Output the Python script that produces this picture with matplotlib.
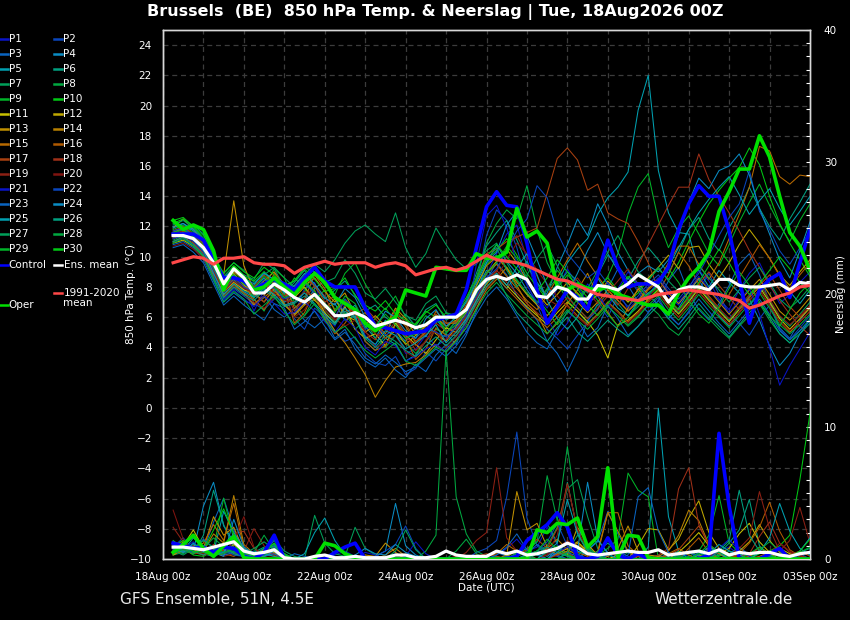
import numpy as np
import matplotlib
matplotlib.use('Agg')
import matplotlib.pyplot as plt
import matplotlib.dates as mdates
from matplotlib.ticker import MultipleLocator, FixedLocator
from matplotlib.lines import Line2D

# ---------------- data ----------------
run_start = np.datetime64('2026-08-18T06:00')
n_steps = 64
x_tick_dates = ['2026-08-18', '2026-08-20', '2026-08-22', '2026-08-24', '2026-08-26',
                '2026-08-28', '2026-08-30', '2026-09-01', '2026-09-03']

member_colors = ['#0a14c8', '#0a46bc', '#0a64c0', '#0a8cc4', '#00a0b0',
                 '#00a080', '#00a05a', '#00a840', '#00b428', '#00c814',
                 '#c8c000', '#c0a800', '#c09000', '#b88000', '#b86a00',
                 '#b05a00', '#a84010', '#a03018', '#8c2014', '#801410']

# 850 hPa temperature (deg C), 6-hourly from 18Aug 06z
t_control = [11.5, 11.5, 11.5, 11.1, 9.8, 8.6, 8.6, 8.4, 7.8, 8.2, 8.5, 8.2, 7.8, 8.6, 9.3, 8.4,
             8.0, 8.0, 8.0, 6.6, 5.4, 5.3, 5.1, 4.9, 5.0, 5.1, 5.8, 6.0, 6.2, 7.8, 10.6, 13.3,
             14.3, 13.4, 13.3, 10.9, 7.8, 5.6, 6.7, 7.8, 7.3, 6.5, 8.8, 11.1, 9.3, 8.0, 8.2, 8.2,
             8.3, 9.3, 11.8, 13.5, 14.7, 14.0, 14.0, 11.7, 8.5, 5.6, 7.8, 8.5, 8.9, 7.3, 9.6, 11.8]
t_oper = [12.4, 11.8, 12.1, 11.8, 10.4, 7.8, 9.3, 8.6, 7.8, 8.0, 8.6, 8.0, 7.5, 8.3, 8.9, 8.3,
          7.3, 6.9, 6.5, 5.6, 5.1, 5.6, 6.0, 7.8, 7.6, 7.4, 9.3, 9.2, 9.1, 9.1, 10.2, 9.9,
          9.9, 10.3, 13.2, 11.3, 11.7, 10.9, 8.0, 7.8, 8.2, 7.9, 7.8, 8.0, 7.5, 7.3, 7.0, 6.8,
          6.8, 6.2, 7.6, 8.6, 9.3, 10.3, 13.0, 14.3, 15.8, 15.8, 18.0, 16.6, 14.0, 11.6, 10.7, 9.1]
t_ens_mean = [11.4, 11.4, 11.2, 10.6, 9.6, 8.2, 9.2, 8.6, 7.6, 7.6, 8.2, 7.8, 7.3, 7.0, 7.5, 6.8,
              6.1, 6.1, 6.3, 6.0, 5.4, 5.6, 5.8, 5.6, 5.3, 5.5, 6.0, 6.0, 6.0, 6.5, 7.8, 8.5,
              8.7, 8.5, 8.8, 8.5, 7.4, 7.3, 8.0, 7.8, 7.2, 7.2, 8.1, 8.0, 7.8, 8.2, 8.8, 8.4,
              8.0, 7.0, 7.8, 8.0, 8.0, 7.8, 8.5, 8.5, 8.1, 8.0, 8.0, 8.1, 8.2, 7.8, 8.3, 8.2]
t_clim = [9.6, 9.8, 10.0, 9.9, 9.5, 9.9, 9.9, 10.0, 9.6, 9.5, 9.5, 9.4, 8.9, 9.3, 9.5, 9.7,
          9.5, 9.6, 9.6, 9.6, 9.3, 9.5, 9.6, 9.4, 8.8, 9.0, 9.2, 9.3, 9.1, 9.3, 9.7, 10.1,
          9.8, 9.7, 9.6, 9.4, 9.1, 8.8, 8.5, 8.4, 8.1, 7.8, 7.5, 7.4, 7.3, 7.2, 7.1, 7.3,
          7.5, 7.6, 7.7, 7.8, 7.7, 7.6, 7.5, 7.3, 7.1, 6.6, 6.8, 7.1, 7.4, 7.6, 8.0, 8.1]

t_p01 = [11.0, 11.2, 10.8, 10.2, 8.9, 7.6, 8.4, 7.9, 6.4, 7.8, 8.6, 6.9, 6.2, 7.9, 8.3, 6.1,
         5.4, 6.9, 6.3, 4.8, 4.1, 5.6, 5.0, 3.6, 3.9, 4.8, 4.1, 4.5, 5.6, 5.0, 7.2, 8.8,
         10.2, 11.5, 12.1, 9.8, 7.5, 6.6, 7.9, 9.2, 8.1, 6.9, 7.4, 8.3, 7.8, 6.5, 7.2, 8.0,
         8.6, 7.4, 6.8, 7.9, 9.1, 8.4, 7.2, 6.5, 7.8, 8.9, 9.6, 8.2, 6.9, 7.5, 8.3, 9.0]
t_p02 = [11.5, 11.8, 11.3, 10.5, 9.1, 7.2, 7.9, 7.4, 6.9, 6.5, 7.2, 7.6, 5.9, 5.2, 6.6, 6.0,
         5.1, 4.4, 4.7, 3.6, 3.0, 2.8, 3.4, 2.2, 2.6, 3.7, 3.1, 3.9, 4.5, 5.5, 8.1, 11.4,
         13.1, 12.4, 10.6, 8.2, 6.8, 5.2, 4.6, 3.9, 4.8, 5.7, 6.9, 6.0, 7.4, 8.6, 7.7, 6.6,
         7.3, 6.1, 5.5, 6.4, 7.8, 8.9, 7.5, 6.2, 5.6, 4.8, 5.9, 6.8, 5.2, 4.5, 5.3, 6.1]
t_p03 = [10.8, 11.0, 10.6, 9.8, 8.4, 7.0, 7.6, 7.1, 6.8, 7.4, 6.5, 6.0, 6.6, 5.8, 5.3, 5.9,
         4.6, 5.2, 3.9, 3.1, 2.7, 3.3, 2.5, 2.0, 2.9, 2.4, 3.5, 4.2, 3.6, 4.8, 6.4, 8.5,
         9.6, 8.8, 7.4, 6.6, 5.8, 4.4, 3.6, 2.4, 3.8, 5.8, 6.5, 7.9, 9.2, 8.1, 7.0, 6.3,
         7.1, 8.4, 9.3, 7.6, 6.5, 5.8, 6.9, 8.1, 9.5, 10.2, 8.8, 7.0, 5.3, 4.6, 5.8, 6.7]
t_p04 = [11.3, 11.6, 11.9, 11.2, 9.6, 8.1, 8.8, 8.3, 7.9, 8.6, 7.7, 8.2, 7.4, 6.8, 7.9, 8.4,
         7.3, 6.2, 6.8, 5.4, 4.6, 5.8, 5.1, 4.4, 5.3, 4.7, 5.9, 5.0, 5.7, 6.4, 7.5, 9.6,
         10.8, 9.7, 8.9, 7.8, 6.9, 7.6, 9.3, 10.8, 12.5, 11.4, 13.5, 12.1, 10.3, 9.1, 8.2, 7.5,
         6.8, 5.9, 6.6, 7.7, 8.5, 7.3, 6.1, 5.4, 6.3, 7.2, 5.8, 4.1, 2.8, 3.6, 4.9, 5.8]
t_p05 = [12.0, 12.2, 11.7, 11.0, 9.3, 7.8, 8.5, 7.8, 7.4, 8.1, 7.9, 7.0, 7.3, 8.4, 7.5, 6.6,
         6.9, 5.8, 6.1, 4.4, 3.8, 4.6, 4.2, 3.1, 3.5, 4.4, 4.0, 4.9, 4.2, 5.9, 7.8, 9.1,
         8.6, 7.9, 8.8, 9.7, 8.3, 7.4, 8.2, 9.6, 10.5, 11.2, 12.8, 13.9, 14.6, 15.6, 19.7, 22.0,
         15.7, 12.9, 11.6, 11.5, 9.1, 8.0, 9.1, 8.3, 7.6, 6.8, 7.5, 8.4, 9.0, 7.7, 6.9, 7.8]
t_p06 = [11.6, 11.9, 12.1, 11.5, 10.0, 8.6, 9.2, 8.5, 8.1, 9.0, 8.4, 7.6, 8.3, 9.1, 8.0, 7.2,
         7.8, 8.4, 7.5, 6.4, 6.8, 6.0, 5.5, 6.2, 5.4, 6.5, 6.9, 5.8, 6.2, 7.1, 8.9, 10.7,
         11.6, 12.4, 11.1, 9.5, 8.2, 7.3, 8.1, 9.0, 8.4, 7.6, 8.8, 10.1, 9.4, 8.5, 9.7, 10.6,
         9.8, 8.9, 10.3, 11.8, 12.6, 11.2, 10.4, 11.9, 13.1, 14.6, 13.2, 12.0, 11.1, 12.5, 13.6, 14.8]
t_p07 = [12.3, 12.0, 11.4, 10.9, 9.8, 8.9, 9.6, 9.1, 8.3, 8.8, 9.3, 8.6, 8.0, 8.8, 9.5, 9.0,
         9.8, 10.9, 11.7, 12.1, 11.5, 11.0, 12.9, 10.6, 9.3, 10.2, 11.9, 10.8, 9.8, 9.2, 9.5, 10.4,
         10.9, 9.6, 8.4, 7.5, 6.9, 7.8, 8.6, 7.4, 6.6, 5.9, 6.8, 7.6, 6.9, 6.1, 6.7, 7.5,
         8.1, 7.0, 6.3, 7.1, 8.0, 7.2, 6.5, 5.8, 6.6, 7.4, 8.2, 7.1, 6.0, 5.4, 6.2, 7.0]
t_p08 = [11.1, 11.4, 11.0, 10.4, 9.0, 7.9, 8.7, 8.2, 7.2, 6.4, 7.8, 8.1, 6.8, 6.1, 7.3, 6.5,
         5.7, 6.3, 5.2, 5.8, 4.6, 4.0, 4.8, 4.3, 3.6, 4.4, 5.2, 4.9, 5.8, 6.4, 8.6, 10.9,
         12.2, 13.1, 12.5, 14.7, 11.8, 9.6, 8.3, 7.1, 6.4, 5.6, 6.2, 7.0, 6.4, 5.5, 6.1, 6.8,
         6.2, 5.3, 4.8, 5.7, 6.6, 5.9, 5.2, 4.6, 5.4, 6.1, 6.9, 5.8, 4.9, 4.3, 5.1, 5.9]
t_p09 = [11.8, 12.1, 11.6, 10.8, 9.4, 8.3, 9.0, 8.4, 7.3, 8.0, 9.2, 8.6, 7.0, 7.7, 9.0, 8.1,
         7.5, 8.9, 9.6, 8.2, 7.1, 6.5, 7.4, 6.0, 5.2, 6.1, 5.6, 6.3, 5.7, 6.6, 8.0, 9.5,
         10.1, 9.3, 8.5, 7.6, 7.0, 7.9, 9.1, 8.3, 7.5, 6.9, 7.8, 8.7, 10.2, 12.8, 14.6, 15.5,
         12.4, 10.6, 11.9, 12.7, 11.5, 10.2, 9.4, 10.8, 12.3, 13.6, 14.8, 13.4, 12.1, 11.0, 12.4, 13.5]
t_p10 = [12.4, 12.6, 12.0, 11.2, 9.7, 8.5, 9.3, 8.7, 8.4, 9.0, 8.1, 7.5, 8.6, 7.9, 7.1, 7.8,
         6.5, 7.2, 6.4, 5.3, 5.9, 6.6, 5.7, 4.9, 5.6, 6.4, 6.0, 5.2, 6.1, 7.0, 8.4, 9.8,
         10.4, 11.2, 10.1, 8.9, 8.0, 7.2, 7.9, 8.8, 8.1, 7.3, 7.9, 8.6, 7.8, 7.0, 7.6, 8.5,
         9.2, 8.5, 9.6, 11.0, 12.3, 13.5, 14.4, 15.2, 15.9, 17.2, 16.1, 14.0, 12.2, 10.9, 9.8, 8.7]
t_p11 = [10.9, 11.1, 10.7, 10.0, 8.8, 7.7, 8.3, 7.8, 7.6, 7.0, 7.9, 6.8, 6.2, 6.9, 7.5, 6.3,
         5.6, 6.7, 5.2, 4.6, 4.9, 4.1, 5.6, 4.8, 4.2, 3.6, 4.5, 5.3, 5.0, 5.9, 7.1, 8.2,
         8.9, 8.1, 7.4, 6.7, 6.1, 5.5, 6.3, 7.0, 6.4, 5.7, 4.8, 3.3, 5.5, 5.8, 6.4, 7.2,
         7.8, 6.9, 6.2, 7.0, 7.9, 7.1, 6.4, 5.7, 6.5, 7.3, 8.0, 7.0, 5.9, 5.2, 5.9, 6.6]
t_p12 = [11.4, 11.7, 11.2, 10.6, 9.2, 8.0, 8.9, 8.1, 7.7, 8.3, 7.4, 7.9, 7.3, 8.0, 7.1, 6.6,
         7.2, 6.1, 5.8, 5.0, 5.5, 4.6, 5.1, 4.2, 4.8, 5.5, 4.9, 4.4, 5.4, 6.3, 7.6, 8.9,
         9.7, 10.5, 9.6, 8.4, 7.6, 6.8, 7.5, 8.3, 7.6, 6.9, 7.5, 8.4, 7.7, 7.0, 7.8, 8.6,
         9.3, 10.1, 9.2, 10.6, 10.7, 9.5, 8.6, 9.6, 10.8, 11.8, 10.9, 9.9, 8.8, 8.1, 9.0, 9.8]
t_p13 = [11.9, 12.5, 11.8, 11.0, 9.9, 8.8, 13.7, 9.4, 7.8, 8.4, 9.0, 8.1, 7.5, 8.1, 8.6, 7.7,
         7.0, 7.6, 6.2, 5.5, 6.1, 5.4, 6.6, 5.9, 4.8, 5.4, 6.0, 5.4, 5.8, 6.8, 8.1, 9.4,
         10.0, 9.2, 8.3, 7.5, 6.8, 6.1, 6.9, 7.7, 7.0, 6.3, 7.0, 7.8, 7.1, 6.4, 7.1, 7.9,
         8.5, 7.6, 6.9, 7.7, 8.6, 7.8, 7.0, 6.2, 7.0, 7.8, 8.5, 7.5, 6.4, 5.8, 6.5, 7.3]
t_p14 = [11.2, 11.5, 11.0, 10.3, 9.0, 7.5, 8.2, 7.6, 6.8, 7.3, 7.9, 6.9, 6.1, 6.8, 7.2, 6.2,
         5.1, 4.3, 3.3, 2.2, 0.7, 1.8, 2.7, 2.9, 3.0, 3.5, 4.2, 3.7, 4.5, 5.3, 6.6, 7.8,
         8.5, 9.3, 8.1, 6.9, 6.2, 4.9, 5.6, 6.9, 7.8, 8.9, 7.4, 6.3, 5.4, 6.6, 7.9, 7.0,
         7.6, 6.7, 6.0, 6.8, 7.7, 6.9, 6.2, 5.5, 6.3, 7.1, 7.8, 6.8, 5.7, 5.0, 5.7, 6.4]
t_p15 = [11.6, 11.9, 11.4, 10.7, 9.5, 8.4, 9.0, 8.5, 6.9, 7.4, 8.9, 8.2, 6.6, 7.2, 8.8, 7.9,
         6.4, 7.0, 5.9, 6.3, 5.6, 4.9, 6.2, 5.4, 4.3, 5.0, 6.4, 5.6, 5.6, 6.5, 7.7, 8.9,
         9.5, 8.7, 7.9, 7.1, 6.5, 7.4, 8.6, 9.8, 10.9, 9.7, 8.7, 7.8, 7.1, 6.4, 7.0, 7.8,
         8.4, 9.6, 10.7, 10.7, 9.5, 8.5, 9.6, 11.2, 12.8, 14.6, 17.3, 17.0, 15.3, 14.8, 15.4, 15.3]
t_p16 = [11.0, 11.3, 10.9, 10.2, 8.7, 7.4, 8.1, 7.6, 7.2, 6.5, 7.6, 7.9, 5.6, 6.3, 7.8, 5.9,
         4.9, 5.6, 6.6, 4.4, 3.8, 4.1, 5.5, 4.6, 3.2, 3.9, 5.3, 4.8, 4.8, 5.7, 6.9, 8.0,
         8.7, 7.9, 7.2, 6.5, 5.9, 5.3, 6.0, 6.8, 6.1, 5.5, 6.2, 7.0, 6.4, 5.7, 6.3, 7.1,
         7.7, 8.8, 10.3, 9.4, 8.2, 7.4, 6.6, 7.5, 8.6, 9.7, 10.8, 9.9, 8.7, 7.9, 8.8, 9.6]
t_p17 = [11.7, 12.0, 11.5, 10.9, 9.6, 8.5, 9.1, 8.6, 8.0, 8.8, 8.2, 7.4, 7.8, 8.6, 8.1, 7.0,
         7.4, 6.9, 6.2, 6.6, 5.9, 5.2, 6.5, 5.6, 4.4, 5.1, 6.2, 5.6, 5.7, 6.8, 8.5, 10.2,
         10.5, 11.0, 11.3, 11.6, 11.9, 14.2, 16.5, 17.2, 16.4, 14.4, 14.8, 12.9, 12.5, 12.2, 11.0, 9.6,
         7.8, 7.2, 6.5, 7.3, 8.2, 9.0, 8.1, 7.3, 6.5, 7.3, 8.1, 8.8, 7.8, 6.7, 6.0, 6.7]
t_p18 = [11.3, 11.6, 11.1, 10.5, 9.1, 7.8, 8.6, 8.0, 7.5, 7.0, 8.0, 7.9, 6.4, 7.2, 8.1, 7.4,
         6.0, 7.1, 6.4, 5.0, 4.5, 5.5, 5.9, 4.9, 3.8, 4.4, 5.6, 5.1, 5.2, 6.1, 7.3, 8.5,
         9.1, 8.3, 7.6, 6.9, 6.3, 5.7, 6.5, 7.3, 6.6, 5.9, 6.6, 7.4, 6.8, 7.9, 9.4, 10.8,
         12.1, 13.4, 14.6, 14.6, 16.8, 15.1, 14.0, 12.9, 11.7, 10.4, 9.3, 8.1, 7.1, 6.2, 5.4, 4.8]
t_p19 = [11.5, 11.7, 11.2, 10.4, 9.0, 7.7, 8.4, 7.9, 7.6, 8.3, 7.6, 7.1, 7.0, 7.7, 7.4, 6.5,
         5.8, 6.4, 6.3, 5.6, 4.9, 4.6, 5.8, 4.7, 4.1, 4.9, 5.0, 4.5, 5.1, 6.0, 7.2, 8.4,
         9.0, 10.6, 11.4, 10.1, 8.7, 7.2, 6.8, 7.9, 8.6, 7.7, 6.9, 7.6, 8.4, 9.2, 8.1, 7.4,
         8.0, 7.1, 6.4, 7.2, 8.1, 7.3, 6.6, 5.9, 6.7, 7.5, 8.2, 7.2, 6.1, 5.5, 6.1, 6.8]
t_p20 = [10.7, 10.9, 10.5, 9.9, 8.6, 7.3, 8.0, 7.5, 7.0, 6.6, 7.3, 7.4, 6.0, 6.5, 7.6, 6.8,
         5.9, 5.4, 5.8, 5.1, 4.0, 4.3, 4.8, 3.7, 3.3, 4.5, 5.1, 4.0, 4.7, 5.6, 6.8, 7.9,
         8.6, 9.8, 10.9, 10.2, 9.1, 8.2, 7.4, 6.7, 6.0, 5.4, 6.1, 6.9, 6.3, 5.6, 6.2, 7.0,
         7.6, 6.7, 6.0, 6.8, 7.7, 6.9, 6.2, 5.5, 6.3, 7.1, 7.8, 6.8, 5.7, 5.1, 5.7, 6.4]
t_p21 = [11.2, 11.4, 11.0, 10.3, 8.9, 7.1, 7.8, 7.2, 6.7, 7.4, 6.9, 6.2, 6.3, 7.0, 6.4, 5.7,
         5.0, 5.9, 5.3, 4.0, 3.5, 4.4, 4.1, 3.1, 3.4, 3.9, 4.2, 3.7, 4.3, 5.8, 9.5, 12.7,
         13.4, 11.9, 9.6, 8.1, 7.0, 5.9, 4.8, 5.6, 6.9, 8.2, 7.4, 6.6, 7.9, 9.0, 8.1, 7.3,
         8.6, 7.7, 7.0, 7.8, 8.7, 7.9, 7.1, 6.3, 7.1, 7.9, 6.2, 4.0, 1.5, 2.8, 3.9, 5.0]
t_p22 = [11.7, 11.9, 11.4, 10.6, 9.2, 8.0, 8.7, 8.0, 7.7, 8.5, 7.9, 7.2, 7.5, 8.2, 7.6, 6.8,
         6.0, 7.2, 6.5, 5.2, 5.5, 4.8, 5.2, 4.9, 4.6, 5.3, 5.0, 4.7, 5.3, 6.2, 7.4, 8.6,
         9.2, 10.4, 11.7, 12.5, 14.7, 13.9, 11.6, 10.2, 9.4, 8.6, 9.1, 8.2, 7.4, 6.7, 7.4, 8.2,
         8.8, 7.9, 7.2, 8.0, 8.9, 10.1, 11.4, 12.6, 13.5, 15.7, 13.0, 11.8, 10.4, 9.5, 10.6, 11.7]
t_p23 = [10.6, 10.8, 10.3, 9.6, 8.2, 6.8, 7.4, 6.8, 6.3, 5.8, 6.9, 6.6, 5.2, 5.7, 6.4, 5.4,
         4.5, 5.0, 4.2, 3.3, 2.9, 3.5, 3.0, 2.4, 2.7, 3.3, 3.9, 3.4, 4.1, 5.0, 6.2, 7.3,
         8.0, 7.2, 6.1, 5.0, 4.3, 3.9, 5.1, 6.4, 5.8, 4.7, 5.3, 6.8, 5.9, 4.8, 5.4, 6.3,
         7.1, 6.2, 5.5, 6.3, 7.2, 6.4, 5.6, 4.9, 5.7, 6.5, 7.2, 6.2, 5.1, 4.5, 5.1, 5.8]
t_p24 = [11.9, 12.2, 11.8, 11.1, 9.8, 8.6, 9.2, 8.6, 8.2, 8.9, 8.5, 7.6, 8.1, 8.9, 8.2, 7.3,
         6.8, 7.9, 7.3, 6.0, 5.3, 6.4, 6.0, 5.1, 4.6, 5.9, 6.5, 5.4, 6.0, 7.0, 8.3, 9.6,
         10.3, 12.1, 13.0, 11.4, 9.8, 8.1, 7.0, 7.6, 8.9, 10.4, 11.6, 10.2, 9.1, 8.3, 8.9, 9.4,
         9.0, 9.8, 11.4, 13.6, 15.2, 14.5, 15.7, 16.0, 16.8, 15.4, 13.2, 11.5, 9.8, 8.6, 10.4, 12.3]
t_p25 = [11.4, 11.6, 11.1, 10.4, 8.9, 7.5, 8.2, 7.7, 7.3, 7.9, 7.5, 6.8, 7.0, 7.6, 6.9, 6.2,
         5.6, 6.6, 6.0, 4.7, 4.2, 5.1, 4.8, 3.9, 4.3, 4.8, 5.5, 4.3, 5.0, 5.9, 7.1, 8.3,
         8.9, 8.1, 9.3, 10.2, 8.8, 7.1, 5.9, 5.2, 6.0, 7.3, 8.6, 7.5, 6.6, 6.1, 7.0, 7.6,
         8.1, 9.3, 10.6, 11.8, 12.9, 13.8, 14.6, 15.3, 14.1, 12.8, 13.7, 14.5, 13.2, 12.1, 13.0, 14.0]
t_p26 = [11.0, 11.3, 10.8, 10.1, 8.6, 7.3, 8.0, 7.5, 7.1, 7.8, 7.3, 6.7, 6.9, 7.4, 6.8, 6.0,
         5.5, 6.4, 5.9, 4.6, 4.0, 4.8, 4.4, 3.8, 3.4, 4.1, 4.7, 4.1, 4.8, 5.7, 6.9, 8.0,
         8.7, 7.4, 6.3, 5.6, 4.9, 4.4, 5.3, 6.0, 5.0, 4.4, 5.1, 5.8, 5.2, 4.7, 5.4, 6.1,
         6.8, 5.9, 5.2, 6.0, 6.9, 6.1, 5.4, 4.7, 5.5, 6.3, 7.0, 6.0, 4.9, 4.3, 4.9, 5.6]
t_p27 = [12.1, 12.4, 11.9, 11.2, 9.9, 8.7, 9.4, 8.8, 8.5, 9.6, 9.2, 8.0, 8.4, 9.3, 9.0, 8.3,
         8.6, 9.8, 8.9, 7.6, 7.2, 7.9, 7.0, 6.1, 5.8, 6.9, 7.4, 6.3, 6.1, 7.1, 8.4, 9.8,
         10.6, 9.1, 8.0, 8.8, 9.9, 10.8, 9.4, 8.1, 7.0, 7.9, 9.1, 10.3, 11.4, 10.2, 9.0, 8.4,
         9.3, 8.4, 7.7, 8.5, 9.4, 8.6, 7.8, 7.0, 7.8, 8.6, 9.3, 8.3, 7.2, 6.6, 7.2, 8.0]
t_p28 = [10.9, 11.2, 10.7, 10.0, 8.5, 7.0, 7.7, 7.2, 6.2, 6.8, 7.4, 6.4, 5.5, 6.1, 6.9, 5.8,
         5.0, 5.4, 4.6, 3.8, 3.3, 3.8, 4.3, 3.1, 2.8, 3.4, 4.0, 3.7, 4.4, 5.3, 6.5, 7.6,
         8.3, 7.5, 6.8, 6.1, 5.5, 4.9, 5.7, 6.5, 5.8, 5.2, 5.9, 6.7, 6.1, 5.4, 6.0, 6.8,
         7.4, 6.5, 5.8, 6.6, 7.5, 6.7, 6.0, 5.3, 6.1, 6.9, 7.6, 6.6, 5.5, 4.9, 5.5, 6.2]
t_p29 = [11.6, 11.8, 11.3, 10.6, 9.3, 8.1, 8.8, 8.2, 7.9, 8.7, 8.0, 7.3, 7.6, 8.4, 7.7, 6.9,
         6.3, 7.4, 6.9, 5.6, 5.4, 6.2, 5.5, 4.6, 4.9, 5.6, 6.1, 5.0, 5.5, 6.4, 7.6, 8.9,
         9.6, 10.7, 9.9, 8.6, 7.3, 6.4, 5.5, 6.3, 7.2, 8.0, 7.1, 6.2, 5.4, 6.0, 6.9, 7.5,
         8.1, 9.2, 8.3, 7.1, 6.2, 5.6, 6.7, 7.9, 9.0, 8.1, 7.0, 6.1, 5.4, 6.5, 7.6, 8.3]
t_p30 = [12.2, 12.5, 12.0, 11.4, 10.1, 8.9, 9.6, 9.0, 8.6, 9.3, 8.8, 8.1, 8.4, 9.2, 8.5, 7.7,
         7.9, 8.6, 7.4, 6.8, 6.4, 7.1, 6.2, 5.8, 5.5, 6.3, 6.8, 6.0, 6.3, 7.3, 8.6, 10.0,
         10.8, 10.0, 9.2, 8.4, 7.7, 8.6, 9.8, 9.0, 7.9, 6.8, 6.1, 6.9, 7.8, 8.7, 8.1, 7.2,
         7.9, 7.1, 6.5, 7.4, 8.3, 9.4, 10.5, 9.6, 8.4, 7.5, 8.2, 9.1, 10.0, 9.2, 8.3, 7.6]

# precipitation (mm per 6 h)
r_control = [1.2, 1.0, 0.8, 0.9, 0.5, 0.9, 0.8, 0.2, 0, 0.5, 1.8, 0, 0, 0, 0, 0,
             0.5, 0.9, 1.2, 0, 0, 0, 0, 0, 0, 0, 0, 0, 0, 0, 0, 0,
             0, 0, 0.2, 1.4, 2.0, 2.6, 3.5, 2.4, 0.1, 0, 0.2, 1.6, 0.3, 0, 0.4, 0,
             0, 0, 0, 0, 0, 0.3, 9.5, 4.0, 0, 0, 0, 0.4, 0.8, 0, 0, 0]
r_oper = [0.5, 1.1, 1.8, 0.8, 0.2, 1.0, 1.7, 0.1, 0, 0, 0, 0, 0, 0, 0, 1.2,
          1.0, 0.4, 0.1, 0, 0, 0, 0, 0, 0, 0, 0, 0, 0, 0, 0, 0,
          0, 0, 0, 0, 2.2, 2.0, 2.7, 2.6, 3.1, 0.9, 1.7, 6.9, 0.1, 1.8, 1.7, 0.1,
          0, 0, 0, 0, 0, 0, 0, 0, 0, 0, 0, 0, 0, 0, 0, 0]
r_ens_mean = [0.9, 0.9, 0.8, 0.7, 0.9, 1.1, 1.3, 0.6, 0.4, 0.5, 0.7, 0.1, 0, 0, 0.2, 0.3,
              0.1, 0.1, 0.2, 0.1, 0.1, 0.1, 0.3, 0.3, 0.1, 0.1, 0.2, 0.6, 0.3, 0.2, 0.2, 0.2,
              0.6, 0.4, 0.6, 0.3, 0.4, 0.6, 0.8, 1.2, 0.9, 0.4, 0.3, 0.4, 0.5, 0.6, 0.5, 0.5,
              0.7, 0.3, 0.4, 0.5, 0.6, 0.4, 0.7, 0.3, 0.5, 0.4, 0.5, 0.5, 0.3, 0.2, 0.4, 0.5]

r_p01 = [1.2, 0.8, 0.5, 1.0, 0.6, 0.3, 1.4, 0.5, 0, 0.4, 0.9, 0, 0, 0, 0, 0,
         0.3, 0.6, 0.2, 0, 0, 0, 0.4, 0.2, 0, 0, 0, 0, 0, 0, 0, 0,
         0.3, 0.8, 1.5, 0.6, 0.9, 2.4, 1.1, 0.3, 0, 0, 0.5, 0, 0, 0.7, 0.3, 0,
         0, 0, 0.4, 0.2, 0, 0, 0.6, 0.9, 0.3, 0, 0, 0, 0.5, 0.2, 0, 0]
r_p02 = [0.9, 1.6, 0.7, 0.4, 0.2, 0.5, 0.8, 0.3, 0.4, 0.2, 0.6, 0, 0, 0, 0, 0,
         0, 0, 0, 0, 0.2, 0, 0, 0, 0, 0, 0, 0, 0, 0, 0.5, 0.8,
         1.4, 4.7, 9.6, 3.1, 1.0, 0.4, 0.2, 0, 0.6, 0.3, 0, 0, 0, 0, 0, 0.2,
         0, 0.5, 0.3, 0, 0, 0.8, 0.4, 0, 0, 0.2, 0, 0.3, 0, 0, 0.4, 0]
r_p03 = [0.4, 0.7, 1.1, 0.6, 2.8, 4.6, 2.2, 0.8, 0.3, 0.5, 1.4, 0.2, 0, 0, 0, 0,
         0, 0, 0, 0, 0, 0, 0, 0, 0, 0, 0, 0, 0, 0, 0, 0.3,
         0.5, 0.2, 0, 0.4, 1.1, 0.6, 0.3, 0, 0, 0.7, 1.3, 3.6, 1.9, 0.5, 0, 0,
         0.3, 0, 0, 0.6, 0.2, 0, 0, 0.4, 0.9, 0.3, 0, 0.2, 0, 0, 0, 0]
r_p04 = [0.8, 1.2, 0.6, 4.0, 5.8, 2.5, 1.3, 0.4, 0.2, 0.6, 1.0, 0.3, 0, 0, 0, 0,
         0, 0, 0, 0, 0.2, 0.6, 4.2, 1.0, 0.3, 0, 0, 0, 0, 0, 0, 0.2,
         0.6, 0.3, 0, 0, 0.4, 0, 0.8, 0.3, 0, 0.6, 1.4, 0.5, 0.2, 0, 0, 0,
         0, 0.3, 0, 0, 0.5, 0.2, 0, 0, 0, 0, 0, 0, 0, 0, 0, 0]
r_p05 = [1.0, 0.6, 1.6, 0.9, 0.5, 3.6, 2.0, 0.7, 0.4, 0.2, 0.5, 0, 0, 0, 0, 0,
         0, 0, 0, 0, 0, 0, 0, 0, 0, 0, 0, 0, 0, 0, 0, 0,
         0, 0, 0, 0.3, 0.6, 0.2, 0.8, 1.2, 0.6, 0.3, 0, 0.4, 0.3, 0, 0, 0.9,
         11.4, 3.2, 0.6, 0, 0, 0, 0.3, 0.2, 0.5, 0, 0, 0, 0, 0, 0, 0]
r_p06 = [0.6, 0.9, 0.4, 1.8, 5.2, 2.6, 0.9, 0.3, 0.5, 0.9, 1.1, 0.4, 0, 0, 0, 0,
         0, 0.2, 0, 0, 0, 0, 0, 0, 0, 0, 0, 0, 0, 0, 0, 0,
         0, 0, 0.4, 0.8, 1.3, 2.7, 1.2, 5.8, 2.1, 0.4, 0, 0, 0, 0, 0, 0,
         0, 0.2, 0.6, 0.3, 0, 0, 0.4, 1.2, 2.2, 4.5, 1.0, 0.3, 0, 0.2, 0.5, 0.8]
r_p07 = [0.3, 0.5, 0.8, 0.4, 0.2, 0.6, 1.1, 0.5, 0.3, 0.7, 1.5, 0.6, 0.2, 0, 3.3, 1.2,
         0.4, 0.2, 2.4, 0.8, 0.3, 0, 0, 0, 0, 0, 0, 0, 0, 0, 0, 0,
         0.2, 0, 0.5, 0.3, 0.6, 1.0, 2.4, 5.3, 6.0, 3.2, 0.8, 0.3, 0, 0.5, 0.2, 0,
         0, 0, 0, 0, 0.3, 0, 0.2, 0.6, 0.4, 0, 0, 0, 0.2, 0, 0, 0]
r_p08 = [0.7, 0.4, 0.9, 0.5, 0.3, 0.4, 0.6, 0.2, 0, 0.3, 0.8, 0.2, 0, 0, 0, 0,
         0, 0, 0, 0, 0, 0, 0, 0, 0, 0.6, 1.8, 15.8, 4.7, 1.9, 0.6, 0.2,
         0, 0, 0.3, 0.6, 1.3, 6.3, 2.9, 8.5, 3.2, 0.9, 0.3, 0, 0, 0, 0, 0,
         0, 0, 0.2, 0, 0, 0.3, 0, 0, 0, 0, 0, 0, 0.4, 0.2, 0, 0]
r_p09 = [0.5, 1.1, 0.7, 0.3, 0.8, 4.6, 1.5, 0.6, 0.2, 0.5, 1.2, 0.4, 0, 0, 0, 0,
         0, 0, 0, 0, 0, 0, 0, 0, 0, 0, 0, 0, 0, 0, 0, 0,
         0, 0, 0, 0, 0, 0.5, 1.0, 0.4, 0, 0, 0.3, 0.8, 1.5, 6.5, 5.2, 4.7,
         0, 0, 0, 0.2, 0.6, 1.8, 4.8, 1.2, 0.5, 0.3, 0, 0, 0, 0, 0, 0]
r_p10 = [0.4, 0.8, 0.3, 0.2, 0.6, 0.9, 0.4, 0.2, 0.3, 0.8, 0.5, 0, 0, 0, 0, 0,
         0, 0, 0, 0, 0, 0, 0, 0, 0, 0, 0, 0, 0, 0, 0, 0,
         0, 0, 0.2, 0.5, 0.3, 0, 0, 0.4, 0.8, 0.3, 0, 0, 0, 0, 0, 0,
         0, 0, 0, 0, 0, 0, 0.3, 0.2, 0, 0, 0.4, 0.6, 1.0, 1.8, 6.0, 11.0]
r_p11 = [0.6, 1.0, 2.2, 0.8, 0.4, 0.7, 0.5, 0.3, 0.2, 0.4, 0.7, 0.1, 0, 0, 0, 0,
         0, 0, 0, 0, 0, 0, 0, 0, 0, 0, 0, 0, 0, 0, 0, 0,
         0, 0, 0, 0, 0, 0, 0.4, 0.8, 1.3, 0.6, 0.2, 0, 0.3, 0, 0, 0,
         0, 0, 0.5, 1.2, 2.0, 1.0, 0.4, 0.8, 1.9, 2.7, 1.3, 0.5, 0.8, 0.4, 0.2, 0]
r_p12 = [0.3, 0.7, 0.4, 0.9, 0.6, 0.3, 1.1, 0.4, 0.2, 0.3, 0.9, 0.2, 0, 0, 0, 0,
         0, 0, 0, 0, 0, 0, 0, 0.3, 0, 0, 0, 0, 0, 0, 0, 0,
         0, 0.2, 0.6, 0.3, 0, 0, 0.5, 0.3, 2.4, 1.1, 0.3, 0, 0, 0, 1.0, 2.3,
         2.2, 0.7, 1.5, 3.1, 4.4, 2.0, 0.8, 0.4, 0.6, 1.3, 2.6, 1.4, 0.5, 0.2, 0, 0]
r_p13 = [0.5, 1.3, 0.6, 0.8, 3.2, 1.8, 2.4, 0.6, 0.3, 0.2, 0.5, 0, 0, 0, 0, 0,
         0, 0, 0, 0.3, 0.2, 1.2, 0.5, 0, 0, 0, 0, 0, 0, 0, 0, 0,
         0, 0.3, 5.1, 2.2, 2.7, 0.9, 0.3, 0.6, 1.2, 0.5, 0, 0.2, 0.8, 2.5, 0.6, 0.3,
         0.2, 0, 0, 0, 0.3, 0, 0, 0, 0, 0.2, 0.9, 0.4, 0, 0, 0, 0]
r_p14 = [0.8, 0.5, 1.0, 0.6, 1.9, 1.2, 4.8, 1.1, 0.4, 0.7, 0.3, 0, 0, 0, 0, 0,
         0, 0, 0, 0, 0, 0.3, 0.8, 0.2, 0, 0, 0, 0, 0, 0, 0, 0,
         0, 0, 0, 0, 0.4, 0.8, 1.5, 0.7, 0.3, 0, 0.4, 3.5, 2.1, 0.6, 0, 0,
         0.2, 0.6, 1.8, 3.7, 2.9, 1.1, 0.4, 0, 0, 0.3, 0, 0, 0, 0, 0, 0]
r_p15 = [0.4, 0.6, 0.9, 1.2, 2.6, 1.4, 4.2, 0.8, 0.5, 0.3, 0.7, 0.2, 0, 0, 0, 0,
         0, 0, 0, 0, 0, 0, 0, 0, 0, 0, 0, 0, 0, 0, 0.3, 0.2,
         0.4, 1.1, 0.6, 0.2, 0, 0, 0.4, 0.9, 0.5, 0.2, 0.6, 3.5, 3.5, 1.0, 0.3, 0,
         0, 0.4, 0.8, 0.3, 0, 0.2, 0.5, 0.3, 0, 0, 0.2, 0.5, 0.3, 0, 0, 0]
r_p16 = [0.9, 1.4, 0.5, 0.3, 0.7, 0.4, 0.2, 0.6, 0.3, 0.5, 0.4, 0, 0, 0, 0, 0,
         0, 0, 0, 0, 0, 0, 0, 0, 0, 0, 0, 0, 0, 0, 0, 0,
         0, 0, 0, 0, 0, 0, 0, 0, 0, 0, 0, 0, 0, 0, 0, 0,
         0, 0, 0, 0.8, 1.6, 0.5, 0, 0, 0.4, 1.2, 2.4, 4.3, 2.1, 0.7, 0.2, 0]
r_p17 = [1.3, 0.7, 0.4, 0.6, 0.3, 0.9, 0.5, 0.4, 0.2, 0.6, 0.3, 0, 0, 0, 0, 0,
         0, 0, 0, 0, 0, 0, 0, 0, 0, 0, 0, 0, 0, 0, 0.2, 0.4,
         0.2, 0, 0.3, 0.7, 1.5, 0.8, 2.3, 5.7, 2.2, 0.6, 0.2, 0, 0, 0, 0, 0,
         0, 0.3, 0.7, 1.6, 2.5, 1.1, 0.5, 0.2, 0, 0, 0, 0, 0, 0.3, 0.6, 0.2]
r_p18 = [0.6, 1.0, 0.8, 0.4, 1.1, 0.6, 1.9, 2.1, 0.8, 0.3, 0.2, 0, 0, 0, 0, 0,
         0, 0, 0, 0, 0, 0, 0, 0, 0, 0, 0, 0, 0.2, 0, 0, 0,
         0, 0, 0, 0, 0, 0, 0.3, 0.5, 0, 0, 0.2, 0.4, 0.3, 0, 0.2, 0,
         0.3, 0.8, 5.3, 6.9, 2.6, 1.0, 0.6, 0.2, 0.2, 0.4, 1.7, 2.8, 1.2, 0.5, 0.3, 0]
r_p19 = [2.4, 1.3, 0.6, 0.3, 0.5, 0.2, 0.4, 0.6, 2.3, 1.0, 0.3, 0, 0, 0, 0, 0,
         0, 0, 0, 0, 0, 0, 0, 0, 0, 0, 0, 0, 0, 0.5, 1.4, 2.0,
         6.9, 1.6, 0.6, 0.2, 0, 0.3, 0.8, 1.4, 0.9, 0.3, 0, 0, 0, 0, 0, 0,
         0, 0, 0, 0, 0, 0.2, 0.5, 0.3, 0.8, 1.6, 5.1, 2.3, 0.6, 1.4, 3.9, 1.2]
r_p20 = [3.7, 1.5, 0.6, 0.4, 0.8, 0.3, 1.4, 3.2, 0.9, 0.2, 0, 0, 0, 0, 0, 0,
         0, 0, 0, 0, 0, 0, 0, 0, 0, 0, 0, 0, 0, 0, 0, 0,
         0, 0, 0, 0, 0, 0.4, 1.8, 5.6, 2.3, 0.5, 0, 0, 0, 0, 0, 0,
         0, 0, 0, 0, 0, 0, 0, 0, 0, 0.3, 0.8, 0.4, 1.2, 0.6, 0.2, 0]
r_p21 = [1.0, 0.8, 1.3, 0.5, 0.9, 0.4, 0.7, 0.3, 0.2, 0.6, 1.6, 0.3, 0, 0, 0, 0,
         0, 0, 0, 0.5, 0.3, 0, 0, 0.2, 1.3, 0.4, 0, 0, 0, 0, 0, 0,
         0, 0, 0, 0, 0, 0, 0.5, 0.9, 0.3, 0, 0, 0, 0, 0, 0, 0,
         0, 0, 0, 0, 0, 0, 0.8, 1.5, 0.6, 0.2, 0, 0, 0, 0, 0, 0]
r_p22 = [0.7, 1.1, 0.4, 0.9, 0.5, 0.8, 0.3, 0.2, 0.4, 0.3, 0.9, 0.2, 0, 0, 0, 0,
         0, 0, 0, 0, 0.2, 0.6, 1.1, 2.5, 0.8, 0, 0, 0, 0, 0, 0, 0,
         0, 0.2, 0, 0, 0.6, 1.3, 2.7, 1.0, 0.4, 0, 0, 0.3, 0.6, 0.2, 0, 0,
         0, 0, 0.3, 0.5, 0.2, 0, 0, 0, 0, 0, 0, 0, 0, 0, 0.3, 0.6]
r_p23 = [0.9, 0.5, 0.7, 1.5, 0.8, 0.3, 0.5, 0.4, 0.6, 0.2, 0.4, 0, 0.4, 0.2, 0, 0,
         0, 0, 0, 0, 0, 0, 0, 0, 0, 0, 0, 0, 0, 0, 0, 0,
         0.3, 0.9, 1.9, 0.7, 0.3, 0, 0, 0.5, 0.2, 0, 0, 0, 0, 0.3, 4.7, 5.4,
         2.1, 0.5, 0, 0, 0, 0, 0, 0, 0, 0, 0, 0, 0, 0, 0, 0]
r_p24 = [1.1, 0.6, 0.9, 0.7, 0.5, 0.2, 3.0, 0.9, 0.4, 0.2, 0.6, 0, 0, 0, 0, 0,
         0, 0, 0.3, 0.8, 0.4, 0.3, 1.1, 0.5, 0.2, 0, 0, 0, 0, 0, 0, 0,
         0, 0, 0, 0, 0, 0, 0.5, 1.2, 0.6, 5.8, 1.5, 0.4, 0, 0, 0, 0,
         0, 0, 0, 0, 0.3, 0.9, 0.5, 0, 0, 0, 0, 0, 0, 0, 0.6, 1.6]
r_p25 = [0.8, 0.5, 1.2, 0.6, 0.3, 0.5, 2.0, 0.8, 0.3, 0.4, 0.2, 0, 0, 0.4, 2.0, 3.1,
         1.4, 0.3, 0, 0, 0, 0, 0, 0, 0, 0, 0, 0, 0, 0, 0, 0,
         0, 0, 0, 0, 0, 0.6, 1.2, 4.5, 1.9, 0.6, 0.2, 0, 0, 0, 0, 0,
         0, 0, 0, 0, 0, 0.4, 1.1, 0.6, 0.3, 0, 0.5, 1.6, 4.2, 2.1, 0.8, 0.3]
r_p26 = [0.4, 0.9, 0.6, 0.3, 0.7, 1.1, 0.4, 0.2, 0.3, 0.8, 1.0, 0.2, 0, 0, 0, 0,
         0, 0, 0, 0, 0, 0, 0, 0, 0, 0, 0, 0, 0, 0, 0, 0,
         0, 0, 0, 0, 0.4, 0.9, 0.5, 0.2, 0, 0, 0.6, 1.2, 0.5, 0, 0, 0,
         0, 0, 0, 0, 0, 0, 0.6, 1.4, 5.2, 1.8, 0.6, 0.3, 0, 0.2, 0, 0]
r_p27 = [0.6, 0.3, 0.8, 1.4, 0.9, 0.5, 0.6, 0.4, 0.8, 1.3, 0.7, 0.3, 0, 0, 0, 0,
         0, 0, 0, 0, 0, 0, 0.6, 2.2, 0.7, 0, 0, 0, 0, 0, 0, 0,
         0, 0, 0, 0.3, 0, 0, 0, 0.5, 1.8, 0.7, 0.2, 0, 0, 0, 0, 0,
         0, 0, 0.3, 0, 0, 0, 0, 0, 0, 0, 0, 0, 0, 0, 0, 0]
r_p28 = [0.5, 0.7, 0.4, 0.8, 1.6, 0.9, 0.5, 0.3, 0.5, 1.8, 0.6, 0.2, 0, 0, 0, 0,
         0, 0, 0, 0, 0, 0, 0, 0, 0, 0, 0, 0, 0.6, 1.5, 0.4, 0,
         0, 0, 0, 0, 0, 0, 0, 0, 0.3, 0.8, 0.3, 0, 0, 0, 0, 0,
         0, 0, 0, 0, 0.4, 0.2, 0, 0, 0, 0, 0.7, 1.3, 0.6, 0, 0, 0]
r_p29 = [1.4, 0.8, 0.6, 0.5, 0.3, 0.4, 0.9, 0.6, 0.2, 0.3, 0.8, 0.4, 0, 0, 0, 0,
         0, 0, 0, 0, 0, 0, 0, 0, 0, 0, 0, 0, 0, 0, 0, 0,
         0, 0, 0, 0.2, 0.6, 1.5, 0.7, 0.3, 0, 0, 0, 0, 0, 0, 0, 0,
         0, 0, 0, 0, 0.4, 1.1, 0.5, 0.2, 0, 0.4, 0.9, 0.3, 0, 0.2, 0.5, 0.9]
r_p30 = [0.9, 1.4, 0.5, 0.7, 2.2, 3.8, 1.9, 0.6, 0.4, 0.6, 1.2, 0.3, 0, 0, 0, 0,
         0, 0, 0, 0, 0, 0, 0, 0, 0, 0, 0, 0, 0, 0, 0, 0,
         0, 0, 0, 0, 0, 0, 0, 0, 0, 0, 0, 0, 0, 0, 0, 0,
         0, 0, 0, 0, 0, 0, 0, 0, 0, 0, 0, 0, 0, 0.2, 0.6, 1.5]

member_temps = [t_p01, t_p02, t_p03, t_p04, t_p05, t_p06, t_p07, t_p08, t_p09, t_p10,
                t_p11, t_p12, t_p13, t_p14, t_p15, t_p16, t_p17, t_p18, t_p19, t_p20,
                t_p21, t_p22, t_p23, t_p24, t_p25, t_p26, t_p27, t_p28, t_p29, t_p30]
member_rain = [r_p01, r_p02, r_p03, r_p04, r_p05, r_p06, r_p07, r_p08, r_p09, r_p10,
               r_p11, r_p12, r_p13, r_p14, r_p15, r_p16, r_p17, r_p18, r_p19, r_p20,
               r_p21, r_p22, r_p23, r_p24, r_p25, r_p26, r_p27, r_p28, r_p29, r_p30]

# ---------------- figure ----------------
times = run_start + np.arange(n_steps) * np.timedelta64(6, 'h')

plt.rcParams['font.family'] = ['DejaVu Sans']
fig = plt.figure(figsize=(8.5, 6.2), dpi=100, facecolor='black')
W, H = 850.0, 620.0
ax = fig.add_axes([163 / W, 1 - 559 / H, (810 - 163) / W, (559 - 30) / H])
ax.set_facecolor('black')
ax2 = ax.twinx()

spine_col = '#d8d8d8'
grid_col = '#3c3c3c'

# temperature members
for k, vals in enumerate(member_temps):
    assert len(vals) == n_steps, ('temp', k + 1, len(vals))
    ax.plot(times, vals, color=member_colors[k % 20], lw=0.75, zorder=3)
ax.plot(times, t_control, color='#0000ff', lw=2.6, zorder=5)
ax.plot(times, t_oper, color='#00e000', lw=2.6, zorder=5)
ax.plot(times, t_ens_mean, color='#ffffff', lw=2.3, zorder=6)
ax.plot(times, t_clim, color='#ff4848', lw=2.3, zorder=6)

# precipitation members
for k, vals in enumerate(member_rain):
    assert len(vals) == n_steps, ('rain', k + 1, len(vals))
    ax2.plot(times, vals, color=member_colors[k % 20], lw=0.75, zorder=3)
ax2.plot(times, r_control, color='#0000ff', lw=2.6, zorder=5)
ax2.plot(times, r_oper, color='#00e000', lw=2.6, zorder=5)
ax2.plot(times, r_ens_mean, color='#ffffff', lw=2.3, zorder=6)

# axes limits / ticks
xmin = np.datetime64('2026-08-18T00:00')
xmax = np.datetime64('2026-09-03T00:00')
ax.set_xlim(xmin, xmax)
ax.set_ylim(-10, 25)
ax2.set_ylim(0, 40)

major_x = [mdates.date2num(np.datetime64(d + 'T00:00')) for d in x_tick_dates]
minor_x = [mdates.date2num(xmin + np.timedelta64(d, 'D')) for d in range(17)]
ax.xaxis.set_major_locator(FixedLocator(major_x))
ax.xaxis.set_minor_locator(FixedLocator(minor_x))
ax.xaxis.set_major_formatter(mdates.DateFormatter('%d%b %Hz'))
ax.set_yticks(np.arange(-10, 25, 2))

ax.tick_params(axis='x', which='both', length=0, colors='white', labelsize=7.5, pad=9)
ax.tick_params(axis='y', which='both', length=0, colors='white', labelsize=7.5, pad=8)
ax2.yaxis.set_major_locator(MultipleLocator(10))
ax2.yaxis.set_minor_locator(MultipleLocator(1))
ax2.tick_params(axis='y', which='major', direction='in', length=3, width=0.8,
                colors='white', labelsize=7.5, pad=10)
ax2.tick_params(axis='y', which='minor', direction='in', length=3, width=0.8, color='white')

ax.grid(True, axis='x', which='both', color=grid_col, ls=(0, (4, 3)), lw=0.9)
ax.grid(True, axis='y', which='major', color=grid_col, ls=(0, (4, 3)), lw=0.9)
ax.set_axisbelow(True)

for a in (ax, ax2):
    for s in a.spines.values():
        s.set_color(spine_col)
        s.set_linewidth(1.0)
ax.spines['left'].set_color('white')

ax.set_ylabel('850 hPa Temp. (°C)', color='white', fontsize=7.5)
ax.yaxis.set_label_coords(-0.042, 0.5)
ax2.set_ylabel('Neerslag (mm)', color='white', fontsize=7.5)
ax2.yaxis.set_label_coords(1.040, 0.5)
ax.set_xlabel('Date (UTC)', color='white', fontsize=7.5)
ax.xaxis.set_label_coords(0.5, -0.045)

# title and footer
fig.text(435 / W, 1 - 12 / H, 'Brussels  (BE)  850 hPa Temp. & Neerslag | Tue, 18Aug2026 00Z',
         color='white', fontsize=11.5, fontweight='bold', ha='center', va='center')
fig.text(120 / W, 1 - 599 / H, 'GFS Ensemble, 51N, 4.5E', color='#e8e8e8', fontsize=11,
         ha='left', va='center')
fig.text(793 / W, 1 - 599 / H, 'Wetterzentrale.de', color='#e8e8e8', fontsize=11,
         ha='right', va='center')

# legend (two columns drawn manually)
def legend_entry(x_line, x_text, y_px, color, label):
    yf = 1 - y_px / H
    fig.add_artist(Line2D([x_line / W, (x_line + 8) / W], [yf, yf], color=color, lw=1.8,
                          transform=fig.transFigure))
    fig.text(x_text / W, yf, label, color='white', fontsize=7.5, ha='left', va='center')

for k in range(30):
    row = k // 2
    y_px = 39 + 15 * row
    if k % 2 == 0:
        legend_entry(0, 8.5, y_px, member_colors[k % 20], 'P%d' % (k + 1))
    else:
        legend_entry(54, 63.5, y_px, member_colors[k % 20], 'P%d' % (k + 1))
legend_entry(0, 8.5, 265, '#0000ff', 'Control')
legend_entry(54, 63.5, 265, '#ffffff', 'Ens. mean')
legend_entry(0, 8.5, 305, '#00e000', 'Oper')
yf = 1 - 293 / H
fig.add_artist(Line2D([54 / W, 62 / W], [yf, yf], color='#ff4848', lw=1.8, transform=fig.transFigure))
fig.text(63.5 / W, 1 - 298 / H, '1991-2020\nmean', color='white', fontsize=7.5,
         ha='left', va='center', linespacing=0.95)

fig.savefig('out.png', dpi=100, facecolor='black')
